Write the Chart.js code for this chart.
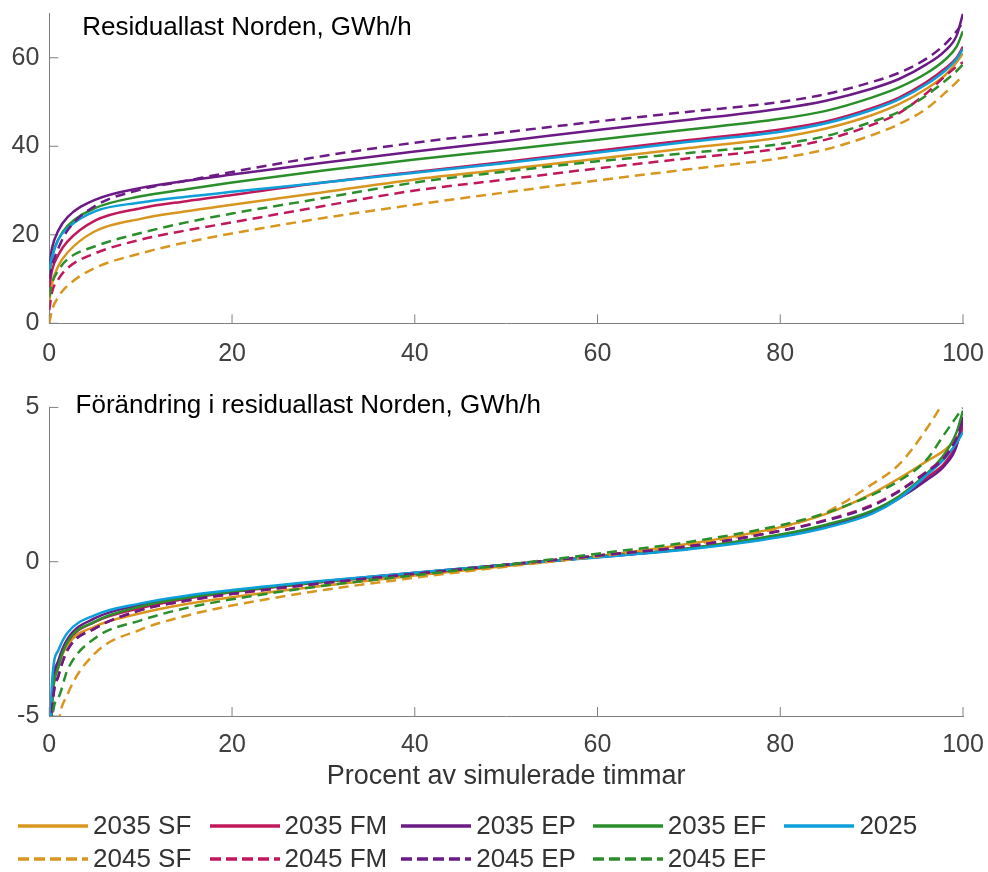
<!DOCTYPE html>
<html>
<head>
<meta charset="utf-8">
<script src="https://cdn.jsdelivr.net/npm/chart.js@4.4.1/dist/chart.umd.min.js"></script>
<style>
  body { margin: 0; background: #fff; }
  #wrap { position: relative; width: 988px; height: 872px; font-family: 'Liberation Sans', Arial, sans-serif; }
  #topChart { position: absolute; left: 0; top: 0; }
  #bottomChart { position: absolute; left: 0; top: 380px; }
  #legend { position: absolute; left: 18px; top: 809px; }
  .row { height: 33px; display: flex; align-items: center; }
  .item { width: 191.6px; display: flex; align-items: center; font-size: 26px; color: #333; }
  .item svg { margin-right: 5px; }
</style>
</head>
<body>
<div id="wrap">
  <canvas id="topChart" width="988" height="380"></canvas>
  <canvas id="bottomChart" width="988" height="430"></canvas>
  <div id="legend"></div>
</div>
<script>
// x positions (percent of simulated hours)
const pct = [0, 0.3, 1, 2, 5, 10, 15, 20, 30, 40, 50, 60, 70, 80, 85, 90, 93, 96, 98, 99.3, 100];
const xTicks = [0, 20, 40, 60, 80, 100];
const yTicksTop = [0, 20, 40, 60];
const yTicksBottom = [-5, 0, 5];

const seriesNames = ['2035 SF', '2035 FM', '2035 EP', '2035 EF', '2025', '2045 SF', '2045 FM', '2045 EP', '2045 EF'];
const seriesColors = ['#d8961f', '#c0185a', '#6b1a86', '#2a8f2a', '#0c9fda', '#d8961f', '#c0185a', '#6b1a86', '#2a8f2a'];
const seriesDashed = [false, false, false, false, false, true, true, true, true];

// Residuallast Norden, GWh/h
const res2035SF = [5, 9, 13, 16, 20.8, 23.6, 25.3, 26.8, 29.6, 32.5, 34.8, 37.2, 39.6, 42, 44, 47, 49.5, 53, 56, 59, 61];
const res2035FM = [8, 12, 15.5, 18.5, 23.2, 26, 27.6, 29, 31.8, 34.2, 36.5, 39, 41.4, 43.8, 45.6, 48.6, 51, 54.5, 57.5, 60, 62.5];
const res2035EP = [13, 17, 21, 24, 27.9, 30.6, 32.2, 33.6, 36.3, 38.8, 41.2, 43.7, 46, 48.5, 50.3, 53, 55.2, 58.5, 61.5, 65, 70];
const res2035EF = [11, 15, 19, 22, 26, 28.7, 30.3, 31.8, 34.5, 37, 39.2, 41.5, 43.8, 46.2, 48, 51, 53.3, 56.5, 59.5, 62.5, 66];
const res2025 = [12, 15, 19, 21.5, 25.3, 27.3, 28.6, 29.7, 31.8, 34, 36.2, 38.6, 41, 43.3, 45.2, 48.2, 50.6, 54, 57, 59.7, 62];
const res2045SF = [0, 3, 6, 8.5, 12.5, 15.8, 18.3, 20.3, 23.8, 26.8, 29.6, 32.3, 34.8, 37.3, 39.3, 42.5, 45, 48.5, 52, 54.5, 56];
const res2045FM = [3, 7, 10, 12.5, 15.8, 18.9, 21, 22.8, 26.5, 30, 32.5, 35, 37.3, 39.5, 41.5, 44.8, 47.5, 52, 55.8, 58, 59];
const res2045EP = [10, 13, 17, 21, 26.5, 30.2, 32.2, 34.2, 37.8, 40.8, 43.2, 45.6, 47.8, 50, 51.8, 54.5, 56.6, 59.8, 63, 66, 68];
const res2045EF = [6, 9, 12, 14.5, 17.4, 20.4, 22.8, 24.8, 28.3, 31.8, 34.3, 36.6, 38.5, 40.5, 42.3, 45.5, 47.8, 51.5, 54.7, 57, 58.5];

// Förändring i residuallast Norden, GWh/h
const chg2035SF = [-7, -4.6, -3.4, -2.7, -2.1, -1.67, -1.37, -1.15, -0.78, -0.45, -0.14, 0.18, 0.58, 1.12, 1.55, 2.2, 2.7, 3.25, 3.62, 4.0, 4.3];
const chg2035FM = [-8, -4.6, -3.3, -2.6, -1.95, -1.5, -1.2, -0.99, -0.66, -0.38, -0.1, 0.15, 0.43, 0.86, 1.17, 1.62, 2.08, 2.72, 3.2, 3.8, 4.4];
const chg2035EP = [-7, -4.3, -3.2, -2.5, -1.83, -1.4, -1.14, -0.95, -0.63, -0.36, -0.1, 0.15, 0.42, 0.85, 1.15, 1.58, 2.05, 2.64, 3.12, 3.75, 4.7];
const chg2035EF = [-7, -4.6, -3.4, -2.6, -1.94, -1.45, -1.17, -0.97, -0.65, -0.37, -0.1, 0.16, 0.44, 0.88, 1.2, 1.65, 2.12, 2.85, 3.5, 4.2, 4.9];
const chg2025 = [-7, -3.9, -2.86, -2.3, -1.73, -1.35, -1.1, -0.92, -0.62, -0.36, -0.1, 0.14, 0.4, 0.8, 1.1, 1.55, 2.05, 2.8, 3.35, 3.85, 4.2];
const chg2045SF = [-12, -8, -5.3, -4.3, -2.97, -2.2, -1.75, -1.42, -0.92, -0.52, -0.16, 0.17, 0.55, 1.1, 1.6, 2.5, 3.15, 4.3, 5.3, 6.3, 7];
const chg2045FM = [-8, -5, -3.7, -2.86, -2.16, -1.57, -1.27, -1.05, -0.7, -0.4, -0.1, 0.2, 0.5, 1.0, 1.35, 1.83, 2.3, 2.92, 3.4, 4.0, 4.5];
const chg2045EP = [-8, -4.9, -3.7, -2.86, -2.16, -1.57, -1.26, -1.04, -0.69, -0.39, -0.1, 0.2, 0.5, 1.0, 1.33, 1.8, 2.28, 2.9, 3.38, 4.0, 4.6];
const chg2045EF = [-9, -5.2, -4.4, -3.5, -2.48, -1.9, -1.5, -1.22, -0.78, -0.44, -0.1, 0.26, 0.64, 1.18, 1.58, 2.16, 2.62, 3.3, 4.15, 4.7, 5.0];

const fontFamily = "'Liberation Sans', Arial, sans-serif";
const axisColor = '#808080';

function makeDatasets(lists) {
    return seriesNames.map((name, i) => ({
        label: name,
        data: pct.map((x, k) => ({ x: x, y: lists[i][k] })),
        borderColor: seriesColors[i],
        backgroundColor: seriesColors[i],
        borderWidth: 2.5,
        borderDash: seriesDashed[i] ? [10, 6] : [],
        pointRadius: 0,
        cubicInterpolationMode: 'monotone',
        clip: 0,
        order: seriesNames.length - i
    }));
}

// MATLAB style tick marks pointing into the axes
const innerTicks = {
    id: 'innerTicks',
    beforeDatasetsDraw(chart) {
        const ctx = chart.ctx;
        const area = chart.chartArea;
        const xs = chart.scales.x;
        const ys = chart.scales.y;
        ctx.save();
        ctx.strokeStyle = axisColor;
        ctx.lineWidth = 1;
        ctx.beginPath();
        xs.ticks.forEach(t => {
            const px = xs.getPixelForValue(t.value);
            ctx.moveTo(px, area.bottom);
            ctx.lineTo(px, area.bottom - 9);
        });
        ys.ticks.forEach(t => {
            const py = ys.getPixelForValue(t.value);
            ctx.moveTo(area.left, py);
            ctx.lineTo(area.left + 9, py);
        });
        ctx.stroke();
        ctx.restore();
    }
};

// title written inside the axes, top left
const panelTitle = {
    id: 'panelTitle',
    afterDraw(chart, args, opts) {
        const ctx = chart.ctx;
        const a = chart.chartArea;
        ctx.save();
        ctx.font = '26px ' + fontFamily;
        ctx.fillStyle = '#000';
        ctx.textBaseline = 'alphabetic';
        ctx.fillText(opts.text, a.left + opts.dx, a.top + opts.dy);
        ctx.restore();
    }
};

function makeOptions(cfg) {
    const xScale = {
        type: 'linear',
        min: 0,
        max: 100,
        afterBuildTicks: s => { s.ticks = xTicks.map(v => ({ value: v })); },
        afterFit: s => { s.height = cfg.xHeight; s.paddingLeft = 0; s.paddingRight = 0; },
        ticks: { font: { family: fontFamily, size: 25 }, color: '#404040', padding: cfg.xPad, maxRotation: 0, autoSkip: false },
        grid: { drawOnChartArea: false, drawTicks: false },
        border: { color: axisColor, width: 1 }
    };
    if (cfg.xTitle) {
        xScale.title = { display: true, text: cfg.xTitle, font: { family: fontFamily, size: 27 }, color: '#333', padding: 0 };
    }
    return {
        responsive: false,
        animation: false,
        layout: { padding: cfg.padding },
        scales: {
            x: xScale,
            y: {
                min: cfg.yMin,
                max: cfg.yMax,
                afterBuildTicks: s => { s.ticks = cfg.yTicks.map(v => ({ value: v })); },
                afterFit: s => { s.width = 49.3; s.paddingTop = 0; s.paddingBottom = 0; },
                ticks: { font: { family: fontFamily, size: 25 }, color: '#404040', padding: 10 },
                grid: { drawOnChartArea: false, drawTicks: false },
                border: { color: axisColor, width: 1 }
            }
        },
        plugins: {
            legend: { display: false },
            tooltip: { enabled: false },
            panelTitle: { text: cfg.title, dx: cfg.titleDx, dy: cfg.titleDy }
        }
    };
}

const topChart = new Chart(document.getElementById('topChart').getContext('2d'), {
    type: 'line',
    data: { datasets: makeDatasets([res2035SF, res2035FM, res2035EP, res2035EF, res2025, res2045SF, res2045FM, res2045EP, res2045EF]) },
    options: makeOptions({
        yMin: 0, yMax: 70, yTicks: yTicksTop,
        padding: { top: 13.5, right: 25, bottom: 0, left: 0 },
        xHeight: 56.7, xPad: 16,
        title: 'Residuallast Norden, GWh/h', titleDx: 33, titleDy: 21.5
    }),
    plugins: [innerTicks, panelTitle]
});

const bottomChart = new Chart(document.getElementById('bottomChart').getContext('2d'), {
    type: 'line',
    data: { datasets: makeDatasets([chg2035SF, chg2035FM, chg2035EP, chg2035EF, chg2025, chg2045SF, chg2045FM, chg2045EP, chg2045EF]) },
    options: makeOptions({
        yMin: -5, yMax: 5, yTicks: yTicksBottom,
        padding: { top: 27.4, right: 25, bottom: 17.4, left: 0 },
        xHeight: 76.6, xPad: 14,
        xTitle: 'Procent av simulerade timmar',
        title: 'Förändring i residuallast Norden, GWh/h', titleDx: 26.3, titleDy: 5.6
    }),
    plugins: [innerTicks, panelTitle]
});

// shared legend, two rows
const legendEl = document.getElementById('legend');
[[0, 5], [5, 9]].forEach(([from, to]) => {
    const row = document.createElement('div');
    row.className = 'row';
    for (let i = from; i < to; i++) {
        const item = document.createElement('div');
        item.className = 'item';
        const dash = seriesDashed[i] ? ' stroke-dasharray="11 5"' : '';
        item.innerHTML = '<svg width="70" height="10"><line x1="0" y1="5" x2="70" y2="5" stroke="' + seriesColors[i] + '" stroke-width="3.5"' + dash + '/></svg><span>' + seriesNames[i] + '</span>';
        row.appendChild(item);
    }
    legendEl.appendChild(row);
});
</script>
</body>
</html>
